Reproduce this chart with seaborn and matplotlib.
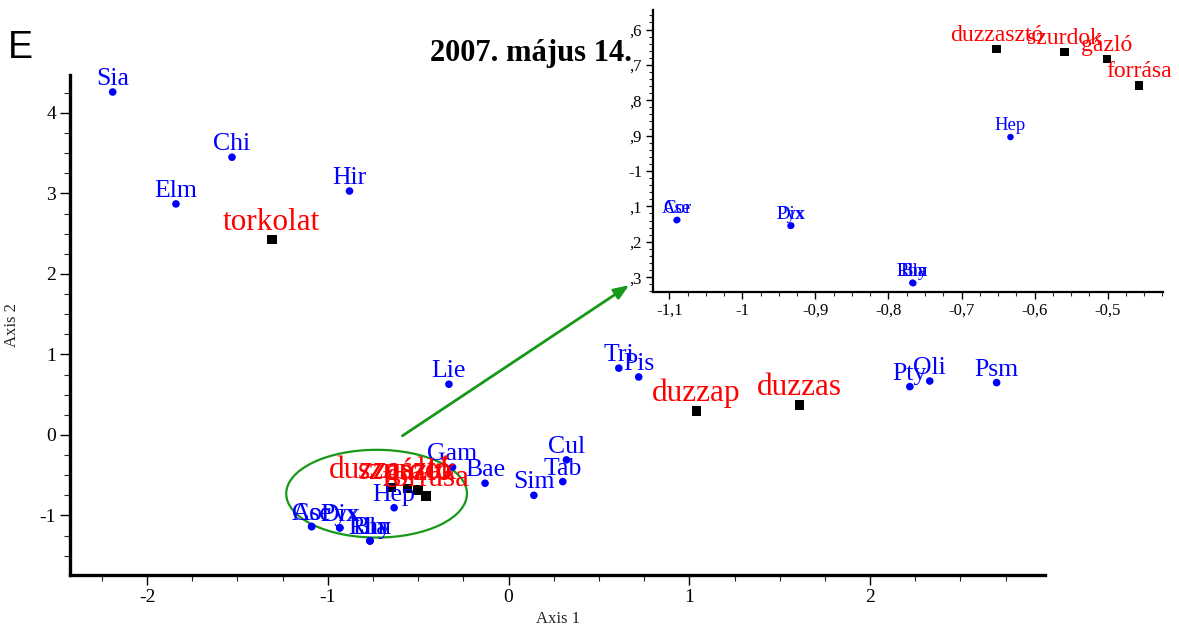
import matplotlib
matplotlib.use("Agg")
import matplotlib.pyplot as plt
from matplotlib.patches import Ellipse
from matplotlib.ticker import MultipleLocator, FixedLocator, FixedFormatter
import seaborn as sns
import pandas as pd

# ---- data ----
species = ["Sia", "Chi", "Elm", "Hir", "Lie", "Tri", "Pis", "Pty", "Oli", "Psm",
           "Gam", "Bae", "Sim", "Cul", "Tab", "Hep", "Ase", "Cor", "Dix", "Pyx",
           "Rhy", "Bla", "Lim"]
species_x = [-2.19, -1.53, -1.84, -0.88, -0.33, 0.61, 0.72, 2.22, 2.33, 2.70,
             -0.31, -0.13, 0.14, 0.32, 0.30, -0.633, -1.090, -1.089, -0.934, -0.933,
             -0.767, -0.766, -0.767]
species_y = [4.26, 3.45, 2.87, 3.03, 0.63, 0.83, 0.72, 0.60, 0.67, 0.65,
             -0.40, -0.60, -0.75, -0.31, -0.58, -0.904, -1.139, -1.138, -1.155, -1.154,
             -1.316, -1.317, -1.316]

sites = ["torkolat", "duzzap", "duzzas", "duzzasztó", "szurdok", "gázló", "forrása"]
sites_x = [-1.31, 1.04, 1.61, -0.652, -0.559, -0.501, -0.457]
sites_y = [2.43, 0.30, 0.37, -0.655, -0.664, -0.684, -0.758]

inset_xticks = [-1.1, -1.0, -0.9, -0.8, -0.7, -0.6, -0.5]
inset_xticklabels = ["-1,1", "-1", "-0,9", "-0,8", "-0,7", "-0,6", "-0,5"]
inset_yticks = [-0.6, -0.7, -0.8, -0.9, -1.0, -1.1, -1.2, -1.3]
inset_yticklabels = [",6", ",7", ",8", ",9", "-1", ",1", ",2", ",3"]

title = "2007. május 14."
panel = "E"

sp = pd.DataFrame({"name": species, "x": species_x, "y": species_y})
st = pd.DataFrame({"name": sites, "x": sites_x, "y": sites_y})

sns.set_style("ticks")
plt.rcParams["font.family"] = ["Liberation Serif", "DejaVu Serif"]
plt.rcParams["axes.unicode_minus"] = False

BLUE = "#0000ff"
RED = "#ff0000"

fig = plt.figure(figsize=(11.79, 6.28), dpi=100)
ax = fig.add_axes([0.0594, 0.0844, 0.827, 0.796])


def style_axes(a, lw, major_len, minor_len, fs):
    for s in ["top", "right"]:
        a.spines[s].set_visible(False)
    for s in ["left", "bottom"]:
        a.spines[s].set_linewidth(lw)
        a.spines[s].set_color("black")
    a.tick_params(which="major", direction="out", length=major_len, width=1.0,
                  labelsize=fs, colors="black", pad=3)
    a.tick_params(which="minor", direction="out", length=minor_len, width=0.8)
    a.set_facecolor("none")


# main panel
sns.scatterplot(data=sp, x="x", y="y", ax=ax, color=BLUE, s=30, marker="o",
                edgecolor="none", zorder=3, legend=False)
sns.scatterplot(data=st, x="x", y="y", ax=ax, color="black", s=48, marker="s",
                edgecolor="none", zorder=3, legend=False)
for n, x, y in zip(species, species_x, species_y):
    ax.annotate(n, (x, y), xytext=(0, 5), textcoords="offset points",
                ha="center", va="baseline", color=BLUE, fontsize=18.5, zorder=4)
for n, x, y in zip(sites, sites_x, sites_y):
    ax.annotate(n, (x, y), xytext=(0, 7), textcoords="offset points",
                ha="center", va="baseline", color=RED, fontsize=22.5, zorder=4)

ax.set_xlim(-2.426, 2.968)
ax.set_ylim(-1.74, 4.47)
ax.xaxis.set_major_locator(MultipleLocator(1))
ax.xaxis.set_minor_locator(MultipleLocator(0.25))
ax.yaxis.set_major_locator(MultipleLocator(1))
ax.yaxis.set_minor_locator(MultipleLocator(0.25))
style_axes(ax, 2.4, 7, 4, 14)
ax.set_xlabel("Axis 1", fontsize=12, labelpad=4)
ax.set_ylabel("Axis 2", fontsize=12, labelpad=14)

ax.add_patch(Ellipse((-0.73, -0.73), 1.0, 1.09, fill=False, edgecolor="#189818",
                     linewidth=1.6, zorder=2))
ax.annotate("", xy=(0.68, 1.88), xytext=(-0.60, -0.03),
            arrowprops=dict(arrowstyle="-|>,head_length=0.9,head_width=0.35",
                            color="#189818", lw=2.0), zorder=2)

# inset
axi = fig.add_axes([0.554, 0.535, 0.4326, 0.449])
sns.scatterplot(data=sp, x="x", y="y", ax=axi, color=BLUE, s=22, marker="o",
                edgecolor="none", zorder=3, legend=False)
sns.scatterplot(data=st, x="x", y="y", ax=axi, color="black", s=36, marker="s",
                edgecolor="none", zorder=3, legend=False)
axi.set_xlim(-1.122, -0.424)
axi.set_ylim(-1.342, -0.545)
for n, x, y in zip(species, species_x, species_y):
    axi.annotate(n, (x, y), xytext=(0, 5), textcoords="offset points",
                 ha="center", va="baseline", color=BLUE, fontsize=13.5, zorder=4,
                 annotation_clip=True)
for n, x, y in zip(sites, sites_x, sites_y):
    axi.annotate(n, (x, y), xytext=(0, 6), textcoords="offset points",
                 ha="center", va="baseline", color=RED, fontsize=17, zorder=4,
                 annotation_clip=True)
axi.xaxis.set_major_locator(FixedLocator(inset_xticks))
axi.xaxis.set_major_formatter(FixedFormatter(inset_xticklabels))
axi.xaxis.set_minor_locator(MultipleLocator(0.025))
axi.yaxis.set_major_locator(FixedLocator(inset_yticks))
axi.yaxis.set_major_formatter(FixedFormatter(inset_yticklabels))
axi.yaxis.set_minor_locator(MultipleLocator(0.02))
style_axes(axi, 1.6, 5, 3, 12)
axi.set_xlabel("")
axi.set_ylabel("")

fig.text(531 / 1179, 1 - 54 / 628, title, ha="center", va="center",
         fontsize=22, fontweight="bold", color="black")
fig.text(8 / 1179, 1 - 48 / 628, panel, ha="left", va="center",
         fontsize=27, family=["Liberation Sans", "DejaVu Sans"], color="black")

fig.savefig("out.png", dpi=100)
